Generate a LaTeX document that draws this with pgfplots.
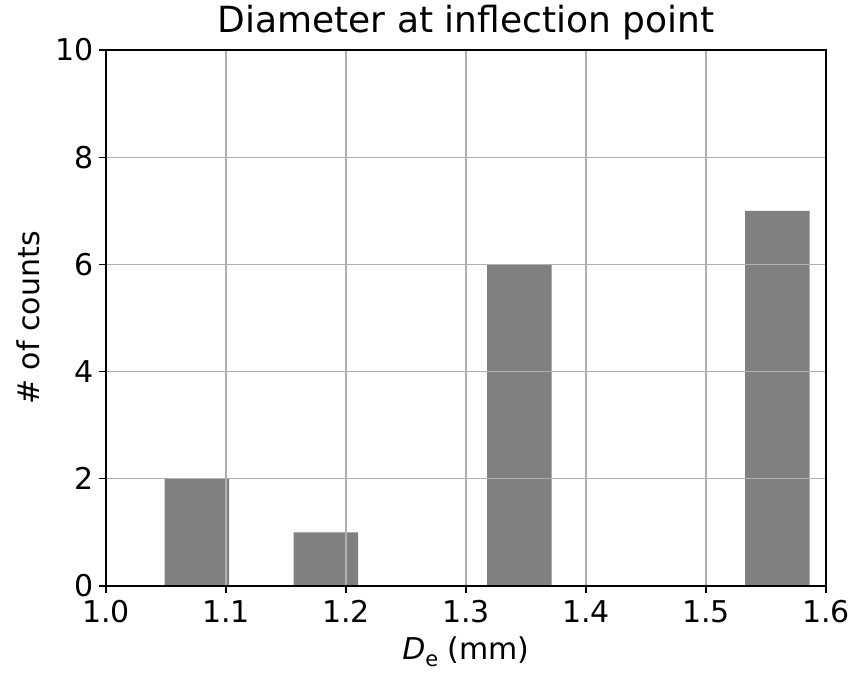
\documentclass[border=0pt]{standalone}
\usepackage{fontspec}
\setmainfont{DejaVu Sans}
\usepackage{pgfplots}
\pgfplotsset{compat=1.18}
\definecolor{gridgray}{HTML}{B0B0B0}
\definecolor{barfill}{HTML}{808080}
\begin{document}
\begin{tikzpicture}
\useasboundingbox (-106pt,-88pt) rectangle (746pt,586pt);
\begin{axis}[
  at={(0pt,0pt)}, anchor=south west,
  scale only axis, width=720pt, height=536pt,
  xmin=1.0, xmax=1.6, ymin=0, ymax=10,
  xtick={1.0,1.1,1.2,1.3,1.4,1.5,1.6},
  ytick={0,2,4,6,8,10},
  xticklabels={1.0,1.1,1.2,1.3,1.4,1.5,1.6},
  /pgf/number format/assume math mode=true,
  tick align=outside,
  major tick length=7pt,
  tick style={black, line width=1.1pt},
  xtick pos=bottom, ytick pos=left,
  grid=major,
  major grid style={gridgray, line width=1.1pt},
  axis line style={black, line width=1.1pt},
  axis on top,
  tick label style={font=\fontsize{30}{36}\selectfont},
  xticklabel style={yshift=-4pt},
  yticklabel style={xshift=-2pt},
  title={Diameter at inflection point},
  title style={font=\fontsize{36}{42}\selectfont, at={(0.5,1)}, anchor=base, yshift=11pt},
  xlabel={\textit{D}\raisebox{-0.22em}{\fontsize{21}{24}\selectfont e} (mm)},
  ylabel={\# of counts},
  label style={font=\fontsize{30}{36}\selectfont},
  xlabel style={at={(0.5,0)}, anchor=base, yshift=-74pt},
  ylabel style={at={(axis description cs:-0.0917,0.5)}, anchor=base},
]
\addplot[ybar interval, fill=barfill, draw=none] coordinates {
  (1.0489,2) (1.1027,0) (1.1564,1) (1.2102,0) (1.2639,0) (1.3177,6)
  (1.3714,0) (1.4252,0) (1.4789,0) (1.5327,7) (1.5864,0)
};
\end{axis}
\end{tikzpicture}
\end{document}
